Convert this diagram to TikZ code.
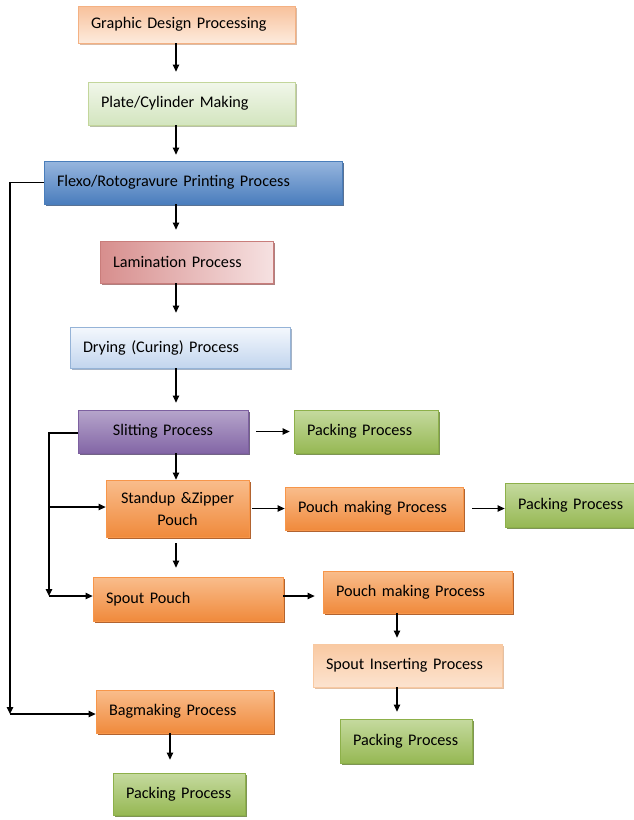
\documentclass[tikz,border=0pt]{standalone}
\usepackage{fontspec}
\setmainfont{Carlito}
\usetikzlibrary{arrows.meta,shadows}
\definecolor{gdA}{HTML}{F8C19B}\definecolor{gdB}{HTML}{FDEBDD}\definecolor{gdL}{HTML}{F4B183}
\definecolor{pcA}{HTML}{F1F7EA}\definecolor{pcB}{HTML}{D3E5BF}\definecolor{pcL}{HTML}{C3D69B}
\definecolor{fxA}{HTML}{97B6DE}\definecolor{fxB}{HTML}{4A7DBD}\definecolor{fxL}{HTML}{4A7EBB}\definecolor{fxS}{HTML}{2F4F7A}
\definecolor{lmA}{HTML}{D78E8D}\definecolor{lmB}{HTML}{F6E1E1}\definecolor{lmL}{HTML}{C97D7B}\definecolor{lmS}{HTML}{8E4A48}
\definecolor{dyA}{HTML}{F4F8FD}\definecolor{dyB}{HTML}{C2D5EE}\definecolor{dyL}{HTML}{95B3D7}\definecolor{dyS}{HTML}{7F93AE}
\definecolor{slA}{HTML}{B6A5CB}\definecolor{slB}{HTML}{8366A6}\definecolor{slL}{HTML}{7D60A0}\definecolor{slS}{HTML}{4F3D66}
\definecolor{pkA}{HTML}{C5DA9F}\definecolor{pkB}{HTML}{96B853}\definecolor{pkL}{HTML}{8DB04A}\definecolor{pkS}{HTML}{5E7A2B}
\definecolor{orA}{HTML}{F9BD8C}\definecolor{orB}{HTML}{F08A3C}\definecolor{orL}{HTML}{F7964A}\definecolor{orS}{HTML}{A8521A}
\definecolor{siA}{HTML}{FCE3CF}\definecolor{siB}{HTML}{F9C9A2}\definecolor{siL}{HTML}{F8C9A2}\definecolor{siS}{HTML}{D9A57C}
\tikzset{
  box/.style={rectangle, inner xsep=13pt, inner ysep=2pt, font=\fontsize{16.2}{22}\selectfont, align=left, line width=0.8pt},
  ctr/.style={align=center},
  gd/.style={top color=gdA, bottom color=gdB, draw=gdL, drop shadow={shadow xshift=1.5pt, shadow yshift=-1.5pt, fill=gdL!80!black, opacity=0.6}},
  pc/.style={top color=pcA, bottom color=pcB, draw=pcL, drop shadow={shadow xshift=1.5pt, shadow yshift=-1.5pt, fill=pcL!70!black, opacity=0.6}},
  fx/.style={top color=fxA, bottom color=fxB, draw=fxL, drop shadow={shadow xshift=2pt, shadow yshift=-2pt, fill=fxS, opacity=0.8}},
  lm/.style={left color=lmA, right color=lmB, draw=lmL, drop shadow={shadow xshift=2pt, shadow yshift=-2pt, fill=lmS, opacity=0.7}},
  dy/.style={top color=dyA, bottom color=dyB, draw=dyL, drop shadow={shadow xshift=2pt, shadow yshift=-2pt, fill=dyS, opacity=0.7}},
  sl/.style={top color=slA, bottom color=slB, draw=slL, drop shadow={shadow xshift=2pt, shadow yshift=-2pt, fill=slS, opacity=0.8}},
  pk/.style={top color=pkA, bottom color=pkB, draw=pkL, drop shadow={shadow xshift=2pt, shadow yshift=-2pt, fill=pkS, opacity=0.8}},
  orb/.style={top color=orA, bottom color=orB, draw=orL, drop shadow={shadow xshift=2pt, shadow yshift=-2pt, fill=orS, opacity=0.9}},
  si/.style={top color=siB, bottom color=siA, draw=siL, drop shadow={shadow xshift=2pt, shadow yshift=-2pt, fill=siS, opacity=0.7}},
  arr/.style={-{Triangle[length=7pt,width=6.5pt]}, line width=1.1pt, black},
  ln/.style={line width=1.1pt, black}
}
\newcommand\pbox[7]{%
  \pgfmathsetmacro\pbw{#4-#2}\pgfmathsetmacro\pbh{#5-#3}\pgfmathsetmacro\pbtw{#4-#2-26}%
  \node[box,#6,minimum width=\pbw pt,minimum height=\pbh pt,text width=\pbtw pt] (#1) at ({(#2+#4)/2},{(#3+#5)/2}) {#7};}
\begin{document}
\begin{tikzpicture}[x=1pt,y=-1pt]
\useasboundingbox (0,0) rectangle (634,820);
\pbox{gd}{78}{6}{295}{43}{gd}{Graphic Design Processing}
\pbox{pc}{88}{82}{295}{125}{pc}{Plate/Cylinder Making}
\pbox{fx}{44}{161}{342}{204}{fx}{Flexo/Rotogravure Printing Process}
\pbox{lm}{100}{241}{273}{283}{lm}{Lamination Process}
\pbox{dy}{70}{327}{290}{368}{dy}{Drying (Curing) Process}
\pbox{sl}{78}{410}{248}{453}{sl,ctr}{Slitting Process}
\pbox{pkA}{294}{410}{438}{453}{pk}{Packing Process}
\pbox{su}{106}{480}{249}{537}{orb,ctr}{Standup \&Zipper\\Pouch}
\pbox{pmA}{285}{487}{463}{530}{orb}{Pouch making Process}
\pbox{pkB}{505}{483}{636}{527}{pk,inner xsep=12pt}{\mbox{Packing Process}}
\pbox{sp}{93}{577}{283}{621}{orb}{Spout Pouch}
\pbox{pmB}{323}{571}{512}{613}{orb}{Pouch making Process}
\pbox{si}{313}{644}{502}{687}{si}{Spout Inserting Process}
\pbox{pkC}{340}{719}{472}{763}{pk}{Packing Process}
\pbox{bg}{96}{690}{273}{733}{orb}{Bagmaking Process}
\pbox{pkD}{113}{773}{245}{815}{pk}{Packing Process}
% helper coordinates
\coordinate (xm) at (176,0);
\coordinate (xr) at (397,0);
\coordinate (xb) at (170,0);
\coordinate (cL) at (10,714);
\coordinate (bL) at (49,433);
\coordinate (bS) at (49,596);
\coordinate (bU) at (49,507);
% main column
\draw[arr, shorten >=10pt] (gd.south -| xm) -- (pc.north -| xm);
\draw[arr, shorten >=6pt] (pc.south -| xm) -- (fx.north -| xm);
\draw[arr, shorten >=11pt] (fx.south -| xm) -- (lm.north -| xm);
\draw[arr, shorten >=14pt] (lm.south -| xm) -- (dy.north -| xm);
\draw[arr, shorten >=7pt] (dy.south -| xm) -- (sl.north -| xm);
\draw[arr] (sl.south -| xm) -- (su.north -| xm);
\draw[arr, shorten <=6pt, shorten >=9pt] (su.south -| xm) -- (sp.north -| xm);
% right branches
\draw[arr, shorten <=8pt, shorten >=4pt] (sl.east) -- (pkA.west |- sl.east);
\draw[arr, shorten <=3pt] (su.east) -- (pmA.west |- su.east);
\draw[arr, shorten <=9pt] (pmA.east) -- (pkB.west |- pmA.east);
\draw[arr, shorten >=8pt] (sp.east |- bS) -- (pmB.west |- bS);
\draw[arr, shorten >=6pt] (pmB.south -| xr) -- (si.north -| xr);
\draw[arr, shorten >=7pt] (si.south -| xr) -- (pkC.north -| xr);
\draw[arr, shorten >=13pt] (bg.south -| xb) -- (pkD.north -| xb);
% left loops
\draw[arr] (fx.west) -| (cL);
\draw[arr] (cL) -- (bg.west |- cL);
\draw[arr] (sl.west |- bL) -- (bL) -- (bS);
\draw[arr] (bU) -- (su.west |- bU);
\draw[arr] (bS) -- (sp.west |- bS);
\end{tikzpicture}
\end{document}
